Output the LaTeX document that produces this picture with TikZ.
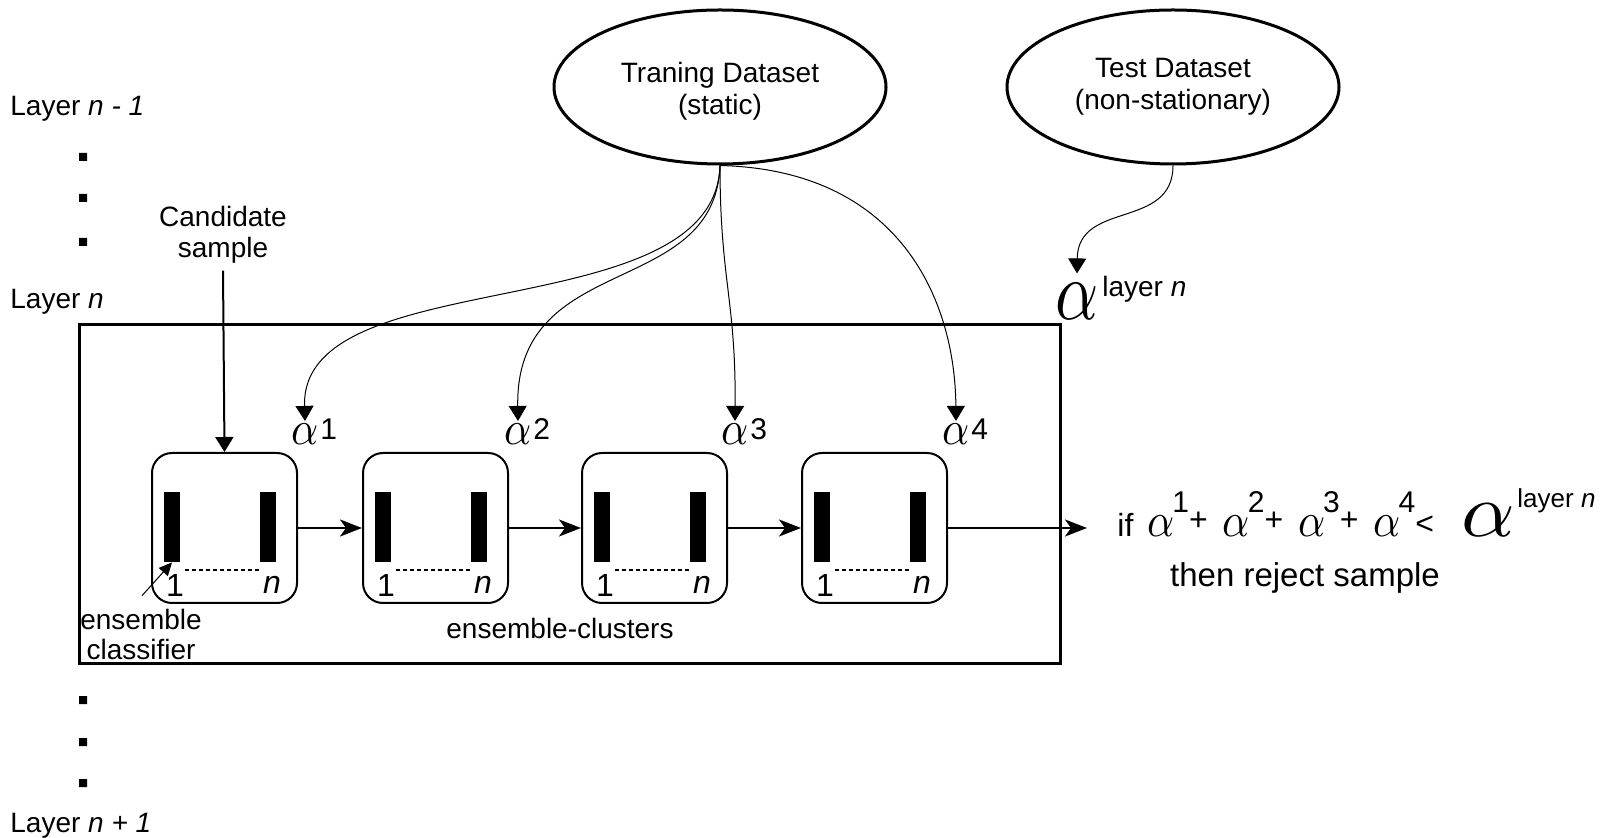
\documentclass[tikz,border=0pt]{standalone}
\usepackage{fontspec}
\setmainfont{Liberation Sans}
\usepackage{graphicx}
\usetikzlibrary{shapes.geometric,arrows.meta,calc}
\DeclareFontFamily{OML}{cmgr}{\skewchar\font=127}
\DeclareFontShape{OML}{cmgr}{m}{it}{<->cmmi10}{}
\newcommand{\alp}[2][1]{\scalebox{#1}[1]{\fontsize{#2}{#2}\usefont{OML}{cmgr}{m}{it}\char"0B}}
\newcommand{\sups}[1]{\hspace{-1pt}\raisebox{12pt}{\fontsize{15}{15}\selectfont #1}}
\newcommand{\op}[2]{\raisebox{#1}{\fontsize{16}{16}\selectfont #2}}

\begin{document}
\begin{tikzpicture}[x=0.5pt,y=-0.5pt,
	every node/.style={font=\fontsize{14}{16}\selectfont},
	dataset/.style={ellipse,draw,line width=1.5pt,minimum width=166pt,minimum height=77pt,inner sep=0pt,align=center},
	clbox/.style={draw,line width=1pt,rounded corners=10pt,minimum width=72.5pt,minimum height=75pt,inner sep=0pt},
	bar/.style={fill=black,minimum width=8pt,minimum height=35pt,inner sep=0pt},
	lay/.style={anchor=west,inner sep=0pt},
	alab/.style={anchor=base,inner sep=1.5pt},
	sup/.style={anchor=base west,inner sep=0pt,font=\fontsize{15}{15}\selectfont},
	num/.style={inner sep=0pt,font=\fontsize{16}{16}\selectfont},
	flow/.style={line width=1pt,-{Stealth[length=11pt,width=8.5pt,inset=3pt]}},
	push/.style={line width=1pt,-{Triangle[length=7.5pt,width=9pt]}},
	feed/.style={line width=0.5pt,-{Triangle[length=7.5pt,width=9pt]}}]

	\useasboundingbox (0,0) rectangle (1610,838);

	\node[lay] (ln1) at (10,109) {Layer \textit{n - 1}};
	\node[lay] (lnn) at (10,302) {Layer \textit{n}};
	\node[lay] (lnp) at (10,826) {Layer \textit{n + 1}};
	\fill (79,153) rectangle (87,161) (79,194) rectangle (87,202) (79,238) rectangle (87,246);
	\fill (79,696) rectangle (87,704) (79,738) rectangle (87,746) (79,779) rectangle (87,787);

	\node[dataset] (train) at (720,87) {\raisebox{-2.5pt}[\height][\depth]{\begin{tabular}{@{}c@{}}Traning Dataset\\(static)\end{tabular}}};
	\node[dataset] (test) at (1173,87) {Test Dataset\\(non-stationary)};

	\draw[line width=1.5pt] (79,325) rectangle (1060,663);

	\node[clbox] (c1) at (224.5,528) {};
	\node[clbox] (c2) at (435.5,528) {};
	\node[clbox] (c3) at (654.5,528) {};
	\node[clbox] (c4) at (874.5,528) {};

	\node[bar] (b1a) at ($(c1)+(-52.5,-1)$) {};
	\node[bar] (b1b) at ($(c1)+(43.5,-1)$) {};
	\node[bar] (b2a) at ($(c2)+(-52.5,-1)$) {};
	\node[bar] (b2b) at ($(c2)+(43.5,-1)$) {};
	\node[bar] (b3a) at ($(c3)+(-52.5,-1)$) {};
	\node[bar] (b3b) at ($(c3)+(43.5,-1)$) {};
	\node[bar] (b4a) at ($(c4)+(-52.5,-1)$) {};
	\node[bar] (b4b) at ($(c4)+(43.5,-1)$) {};
	\draw[line width=1pt,dash pattern=on 2pt off 1.5pt] ($(c1)+(-40,42)$) -- ($(c1)+(36,42)$);
	\draw[line width=1pt,dash pattern=on 2pt off 1.5pt] ($(c2)+(-40,42)$) -- ($(c2)+(36,42)$);
	\draw[line width=1pt,dash pattern=on 2pt off 1.5pt] ($(c3)+(-40,42)$) -- ($(c3)+(36,42)$);
	\draw[line width=1pt,dash pattern=on 2pt off 1.5pt] ($(c4)+(-40,42)$) -- ($(c4)+(36,42)$);
	\node[num] (n1a) at ($(c1)+(-49.5,57)$) {1};
	\node[num] (n1b) at ($(c1)+(47.5,57)$) {\textit{n}};
	\node[num] (n2a) at ($(c2)+(-49.5,57)$) {1};
	\node[num] (n2b) at ($(c2)+(47.5,57)$) {\textit{n}};
	\node[num] (n3a) at ($(c3)+(-49.5,57)$) {1};
	\node[num] (n3b) at ($(c3)+(47.5,57)$) {\textit{n}};
	\node[num] (n4a) at ($(c4)+(-49.5,57)$) {1};
	\node[num] (n4b) at ($(c4)+(47.5,57)$) {\textit{n}};

	\draw[flow] (c1.east) -- (c2.west);
	\draw[flow] (c2.east) -- (c3.west);
	\draw[flow] (c3.east) -- (c4.west);
	\coordinate (ifpt) at (1087,528);
	\draw[flow] (c4.east) -- (ifpt);

	\node[align=center,font=\fontsize{14}{15.5}\selectfont] (cand) at (223,235) {Candidate\\sample};
	\draw[push] (cand.south) -- (c1.north);

	\node[align=center,font=\fontsize{14}{15}\selectfont] (enscl) at (141,634) {ensemble\\classifier};
	\draw[line width=0.5pt,-{Triangle[length=6.5pt,width=6pt]}] ($(enscl.north)+(1,-6)$) -- (b1a.south);
	\node (encl) at (560,628) {ensemble-clusters};

	\node[alab] (a1) at (305,445) {\alp[0.88]{24}};
	\node[alab] (a2) at (518,445) {\alp[0.88]{24}};
	\node[alab] (a3) at (735,445) {\alp[0.88]{24}};
	\node[alab] (a4) at (956,445) {\alp[0.88]{24}};
	\node[sup] (s1) at ($(a1.base east)+(-2,-5)$) {1};
	\node[sup] (s2) at ($(a2.base east)+(-2,-5)$) {2};
	\node[sup] (s3) at ($(a3.base east)+(-2,-5)$) {3};
	\node[sup] (s4) at ($(a4.base east)+(-2,-5)$) {4};

	\draw[feed] (train.south) .. controls (715,330) and (300,260) .. (a1.north);
	\draw[feed] (train.south) .. controls (715,300) and (515,250) .. (a2.north);
	\draw[feed] (train.south) .. controls (720,280) and (736,300) .. (a3.north);
	\draw[feed] (train.south) .. controls (900,170) and (955,300) .. (a4.north);

	\node[alab,inner ysep=5pt] (big) at (1077,320) {\alp[0.8]{42}};
	\node[sup,font=\fontsize{14}{14}\selectfont] (bigs) at ($(big.base east)+(0,-23)$) {layer \textit{n}};
	\draw[feed] (test.south) .. controls (1173,230) and (1078,200) .. (big.north);

	\node[anchor=base west,inner sep=0pt] (cond) at (1117,537) {\fontsize{16}{16}\selectfont if\hspace{7pt}\alp[0.88]{24}\sups{1}\op{3pt}{+}\hspace{7.5pt}\alp[0.88]{24}\sups{2}\op{3pt}{+}\hspace{7.5pt}\alp[0.88]{24}\sups{3}\op{3pt}{+}\hspace{7.5pt}\alp[0.88]{24}\sups{4}\op{1pt}{<}\hspace{14pt}\alp[1.1]{38}\hspace{1pt}\raisebox{14.5pt}{\fontsize{13}{13}\selectfont layer \textit{n}}};
	\node[font=\fontsize{16.5}{18}\selectfont] (rej) at (1305,578) {then reject sample};

\end{tikzpicture}
\end{document}
